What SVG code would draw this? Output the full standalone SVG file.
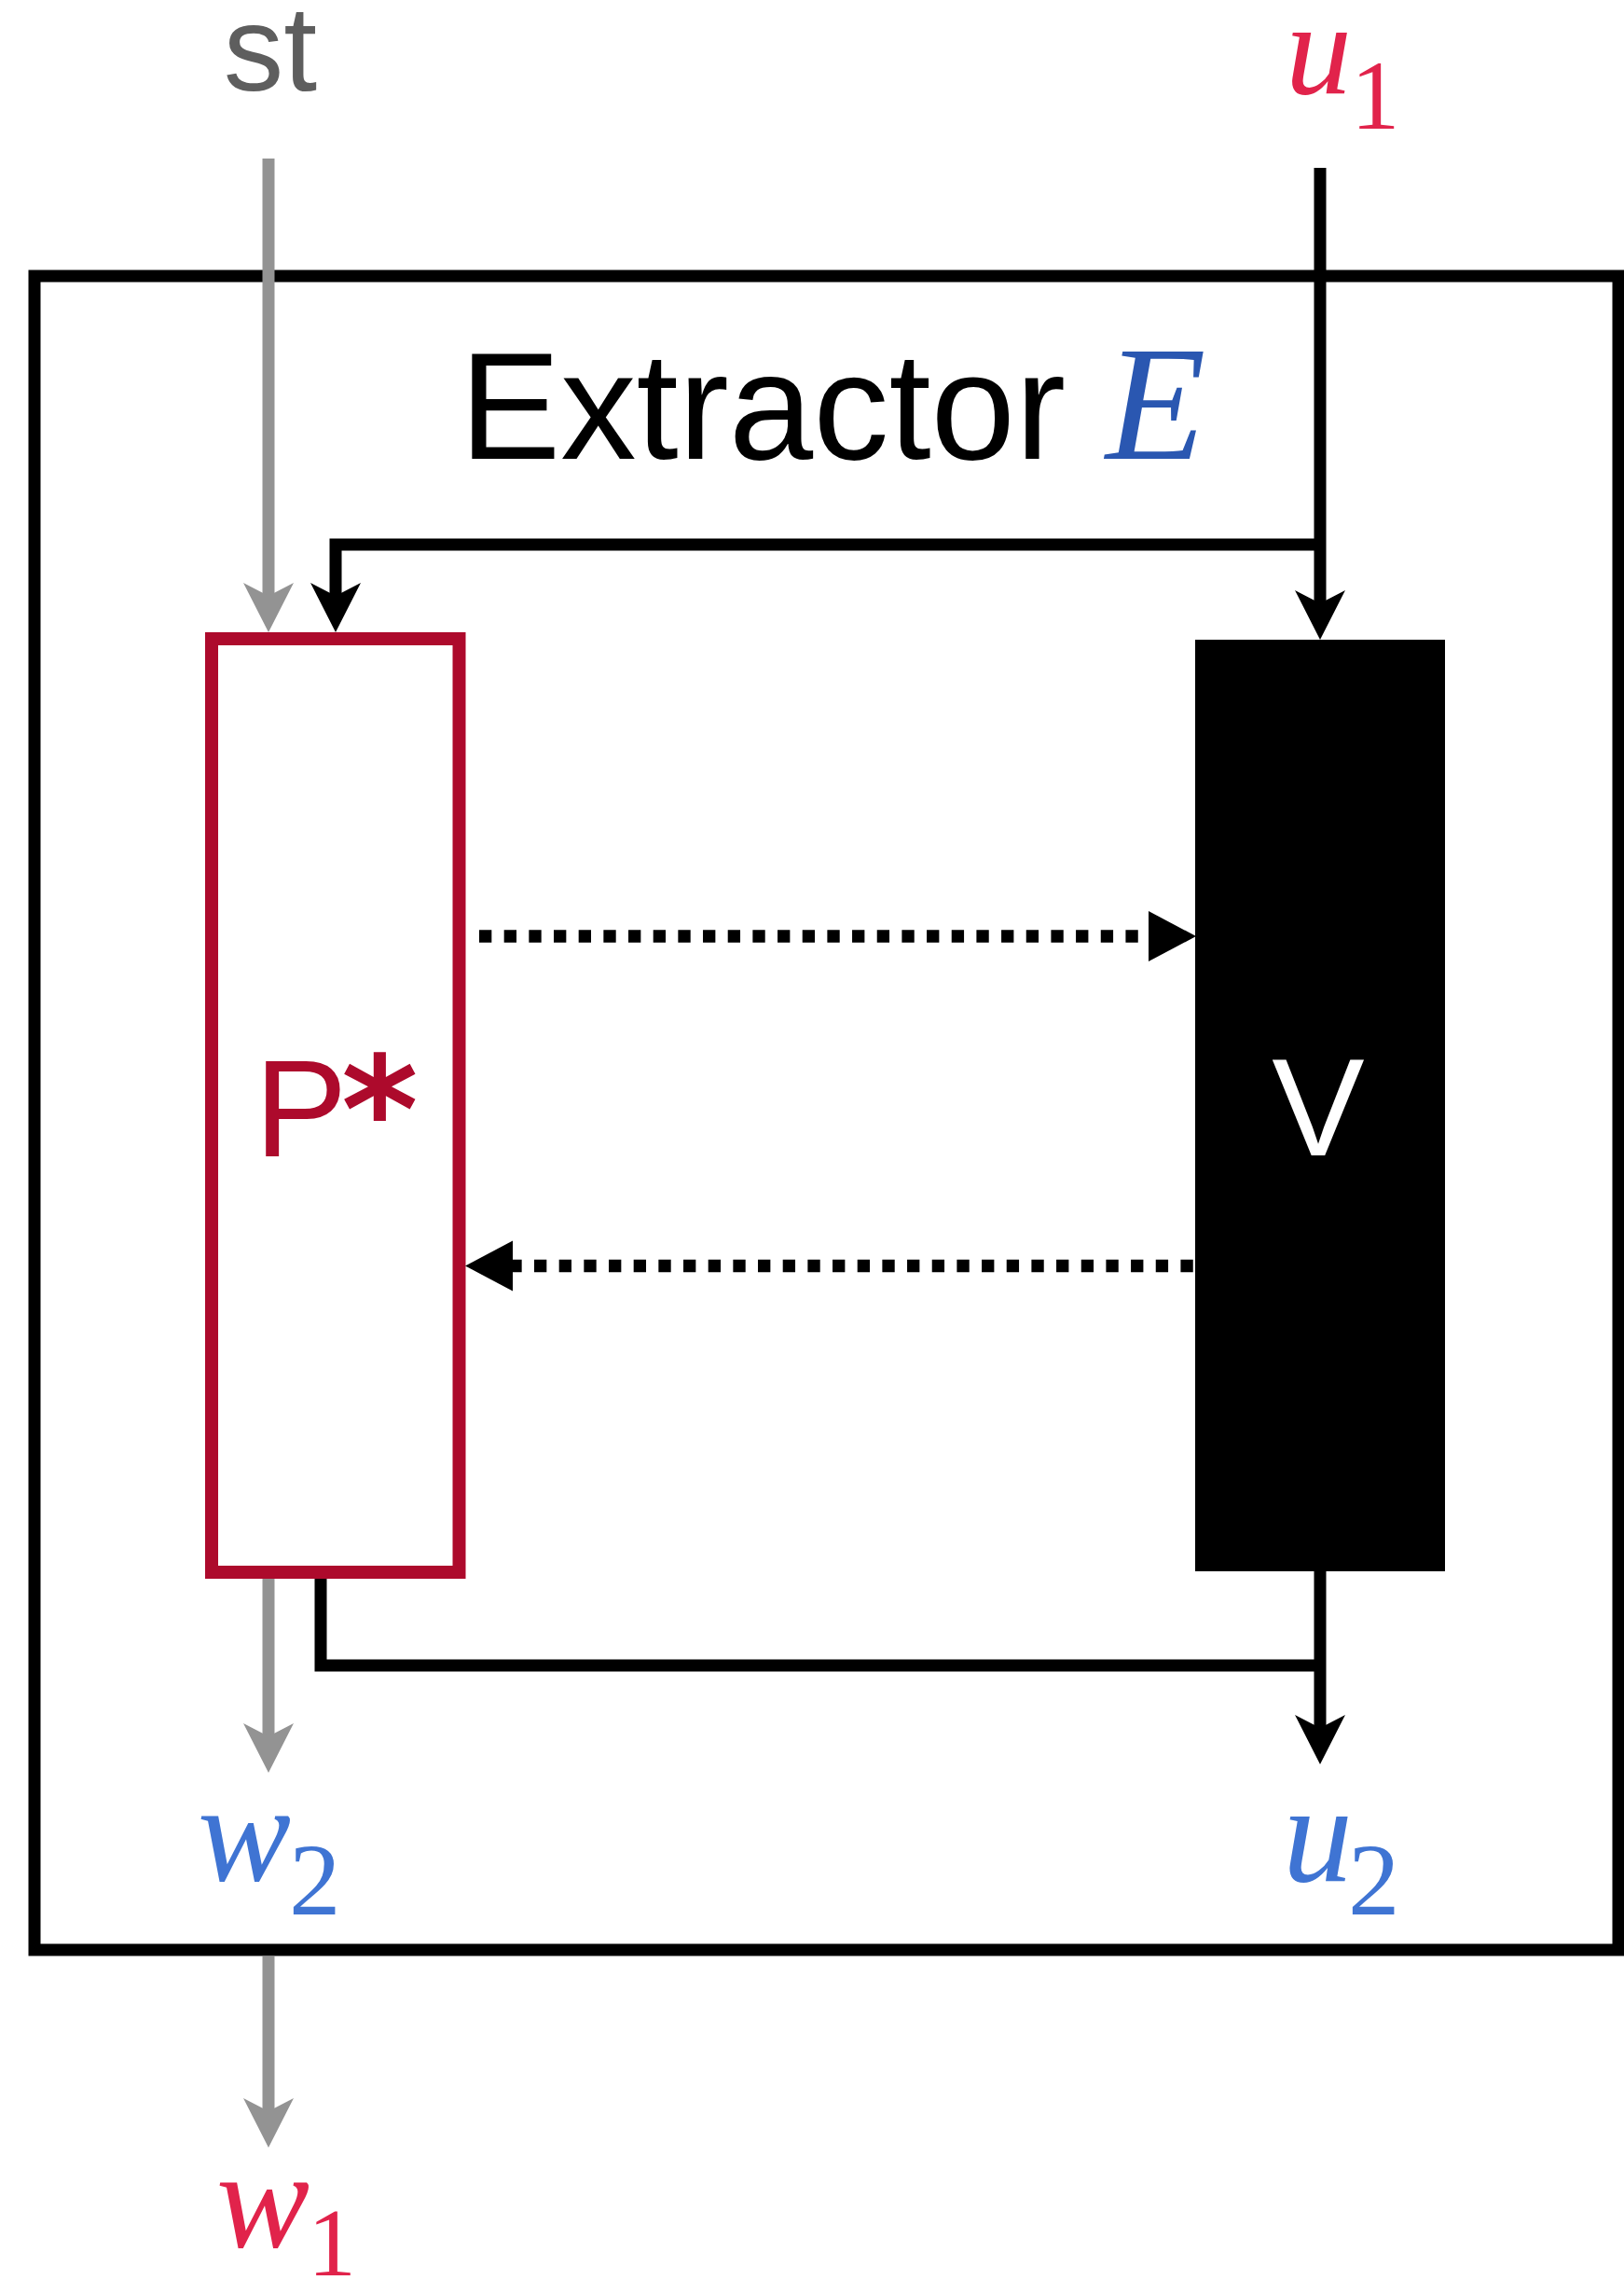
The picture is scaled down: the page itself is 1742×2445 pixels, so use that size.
<svg xmlns="http://www.w3.org/2000/svg" xmlns:xlink="http://www.w3.org/1999/xlink" width="1742" height="2445" viewBox="0 0 1742 2445">
  <style>
    .sans { font-family: "Liberation Sans", Arial, sans-serif; }
    .serif { font-family: "Liberation Serif", "Times New Roman", serif; }
    .ital { font-style: italic; }
    .conn { fill: none; stroke-width: 13; stroke-linejoin: miter; stroke-linecap: butt; }
    .gray { stroke: #939393; }
    .blk { stroke: #000000; }
    .dot { fill: none; stroke: #000; stroke-width: 13.33; stroke-dasharray: 13.33 13.34; }
    .red { fill: #E1234B; }
    .blue { fill: #3F74D3; }
  </style>
  <defs>
    <path id="headDown" d="M0,0 L-27,-53 L0,-39 L27,-53 Z"/>
    <path id="tri" d="M0,0 L-51,-27 L-51,27 Z"/>
  </defs>

  <rect width="1742" height="2445" fill="#ffffff"/>

  <g id="extractor">
    <rect x="37" y="296" width="1699" height="1795" fill="none" stroke="#000" stroke-width="13"/>
    <text x="493" y="492" class="sans" font-size="163" textLength="650" lengthAdjust="spacingAndGlyphs" fill="#000">Extractor</text>
    <text x="1186" y="492" class="serif ital" font-size="176" fill="#2A57B1">E</text>
  </g>

  <g id="node-P">
    <rect x="227" y="685" width="265.5" height="1001" fill="#fff" stroke="#AD0A2C" stroke-width="14"/>
    <text x="273" y="1240" class="sans" font-size="149" fill="#AD0A2C">P<tspan x="366" y="1246" font-family="'DejaVu Sans', sans-serif" font-size="158" font-weight="bold">*</tspan></text>
  </g>

  <g id="node-V">
    <rect x="1282" y="686" width="268" height="999" fill="#000"/>
    <text x="1414" y="1239" class="sans" font-size="149" fill="#fff" text-anchor="middle">V</text>
  </g>

  <g id="labels">
    <text x="290" y="97" class="sans" font-size="129" fill="#5e5e5e" text-anchor="middle">st</text>
    <text x="1379" y="100" class="serif ital red" font-size="142">u</text>
    <text x="1449" y="138" class="serif red" font-size="105">1</text>
    <text x="212" y="2017" class="serif ital blue" font-size="150">w</text>
    <text x="310" y="2053" class="serif blue" font-size="111">2</text>
    <text x="1376" y="2017" class="serif ital blue" font-size="150">u</text>
    <text x="1446" y="2053" class="serif blue" font-size="111">2</text>
    <text x="232" y="2410" class="serif ital red" font-size="150">w</text>
    <text x="330" y="2440" class="serif red" font-size="104">1</text>
  </g>

  <g id="connectors">
    <!-- st -> P* -->
    <path class="conn gray" d="M288,170 V642"/>
    <use xlink:href="#headDown" x="288" y="678" fill="#939393"/>
    <!-- u1 -> V -->
    <path class="conn blk" d="M1416,180 V650"/>
    <use xlink:href="#headDown" x="1416" y="686" fill="#000"/>
    <!-- u1 -> P* -->
    <path class="conn blk" d="M1416,584 H360 V642"/>
    <use xlink:href="#headDown" x="360" y="678" fill="#000"/>
    <!-- P* -> V (dotted) -->
    <path class="dot" d="M514,1004 H1232"/>
    <use xlink:href="#tri" x="1283" y="1004" fill="#000"/>
    <!-- V -> P* (dotted) -->
    <path class="dot" d="M546.33,1357.5 H1282"/>
    <use xlink:href="#tri" transform="translate(499,1357.5) rotate(180)" fill="#000"/>
    <!-- P* -> w2 -->
    <path class="conn gray" d="M288,1693 V1865"/>
    <use xlink:href="#headDown" x="288" y="1901" fill="#939393"/>
    <!-- P* -> u2 -->
    <path class="conn blk" d="M344,1693 V1786 H1416"/>
    <!-- V -> u2 -->
    <path class="conn blk" d="M1416,1685 V1856"/>
    <use xlink:href="#headDown" x="1416" y="1892" fill="#000"/>
    <!-- w2 -> w1 -->
    <path class="conn gray" d="M288,2098 V2267"/>
    <use xlink:href="#headDown" x="288" y="2303" fill="#939393"/>
  </g>
</svg>
